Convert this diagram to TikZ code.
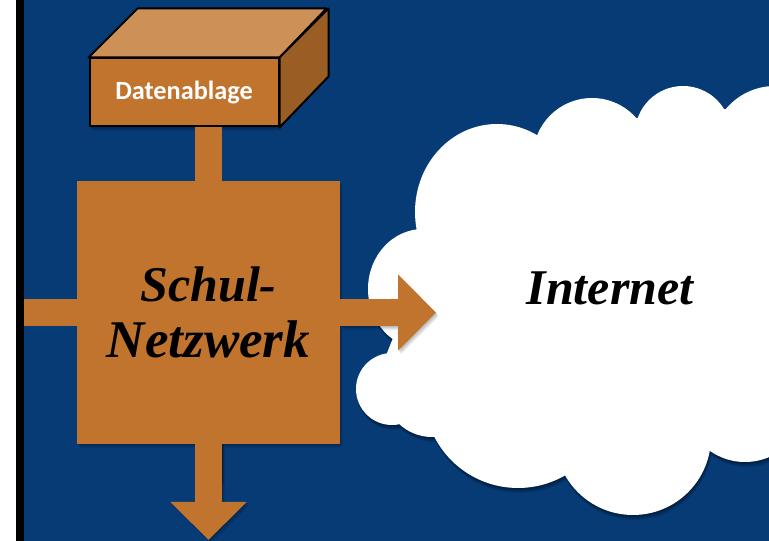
\documentclass[tikz,border=0pt]{standalone}
\usepackage{fontspec}
\setmainfont{Liberation Serif}
\newfontfamily\labelfont{Carlito}
\usetikzlibrary{arrows.meta}
\definecolor{bgblue}{HTML}{063B76}
\definecolor{copper}{HTML}{C1742D}
\definecolor{coppertop}{HTML}{CD9057}
\definecolor{copperside}{HTML}{9A5D24}
\tikzset{
  x=1pt,y=1pt,
  cloudshape/.style={insert path={
    (497,329) ellipse [x radius=82pt,y radius=88pt]
    (592,384) circle [radius=59pt]
    (683,407) circle [radius=48pt]
    (775,391) circle [radius=64pt]
    (432,152) circle [radius=48pt]
    (518,147) circle [radius=94pt]
    (633,104) circle [radius=78pt]
    (745,140) circle [radius=61pt]
    (392,152) circle [radius=36pt]
    (423,252) ellipse [x radius=55pt,y radius=60pt]
    (417,312) -- (393,203) -- (387,188) -- (400,171) -- (398,118) -- (438,104)
    -- (566,65) -- (710,90) -- (769,86) -- (769,441) -- (726,432) -- (637,423)
    -- (537,405) -- cycle}},
  netbox/.style={fill=copper,minimum width=263pt,minimum height=263pt,inner sep=0pt,
    align=center,font=\fontsize{50}{56}\selectfont\bfseries\itshape},
  storebox/.style={draw=black,line width=2pt,fill=copper,minimum width=189pt,minimum height=68pt,
    inner sep=0pt,text=white,font=\labelfont\fontsize{26.3}{30}\selectfont\bfseries},
  boxface/.style={draw=black,line width=2pt,line join=round},
  stem/.style={draw=copper,line width=27pt},
  bigarrow/.style={stem,-{Triangle[width=74pt,length=38pt,fill=copper]}},
  shadowstem/.style={draw=black,line width=27pt,opacity=.07},
  shadowarrow/.style={shadowstem,-{Triangle[width=74pt,length=38pt,fill=black]}},
  cloudtext/.style={font=\fontsize{50}{56}\selectfont\bfseries\itshape}
}
\begin{document}
\begin{tikzpicture}
\clip (0,0) rectangle (769,541);
\fill[white] (0,0) rectangle (769,541);
\fill[black] (16,0) rectangle (24,541);
\fill[bgblue] (24,0) rectangle (769,541);
% coordinates of the free connector ends
\coordinate (leftend) at (24,228.5);
\coordinate (rightend) at (436,228.5);
\coordinate (downend) at (208.5,1);
\coordinate (topjoin) at (208.5,414);
% cloud with soft shadow
\foreach \d in {1,2,3,4,5}{
  \fill[black,opacity=.1,yshift=-\d pt,xshift=.3*\d pt,cloudshape];
}
\fill[white,cloudshape];
% shadows of the boxes
\foreach \d in {1,2,3,4}{
  \fill[black,opacity=.07,xshift=.7*\d pt,yshift=-\d pt] (77,97) rectangle (340,360);
  \draw[shadowstem,xshift=.7*\d pt,yshift=-\d pt] (195+13.5,100) -- (208.5,60);
  \draw[shadowarrow,xshift=.7*\d pt,yshift=-\d pt] (340,228.5) -- (436,228.5);
  \draw[shadowarrow,xshift=.7*\d pt,yshift=-\d pt] (208.5,97) -- (208.5,1);
  \fill[black,opacity=.07,xshift=.7*\d pt,yshift=-\d pt] (89,414) rectangle (279,483);
}
% nodes
\node[storebox] (db) at (184,448.5) {Datenablage};
\node[netbox] (net) at (208.5,228.5) {Schul-\\{\fontsize{53}{56}\selectfont Netzwerk}};
\node[cloudtext] (inet) at (610,253) {Internet};
% box faces
\draw[boxface,fill=coppertop] (db.north west) -- ++(49,49) -- ++(189,0) -- (db.north east) -- cycle;
\draw[boxface,fill=copperside] (db.north east) -- ++(49,49) -- ++(0,-68) -- (db.south east) -- cycle;
% connectors
\draw[stem] (topjoin) -- (net.north);
\draw[stem] (leftend) -- (net.west);
\draw[bigarrow] (net.east) -- (rightend);
\draw[bigarrow] (net.south) -- (downend);
\end{tikzpicture}
\end{document}
